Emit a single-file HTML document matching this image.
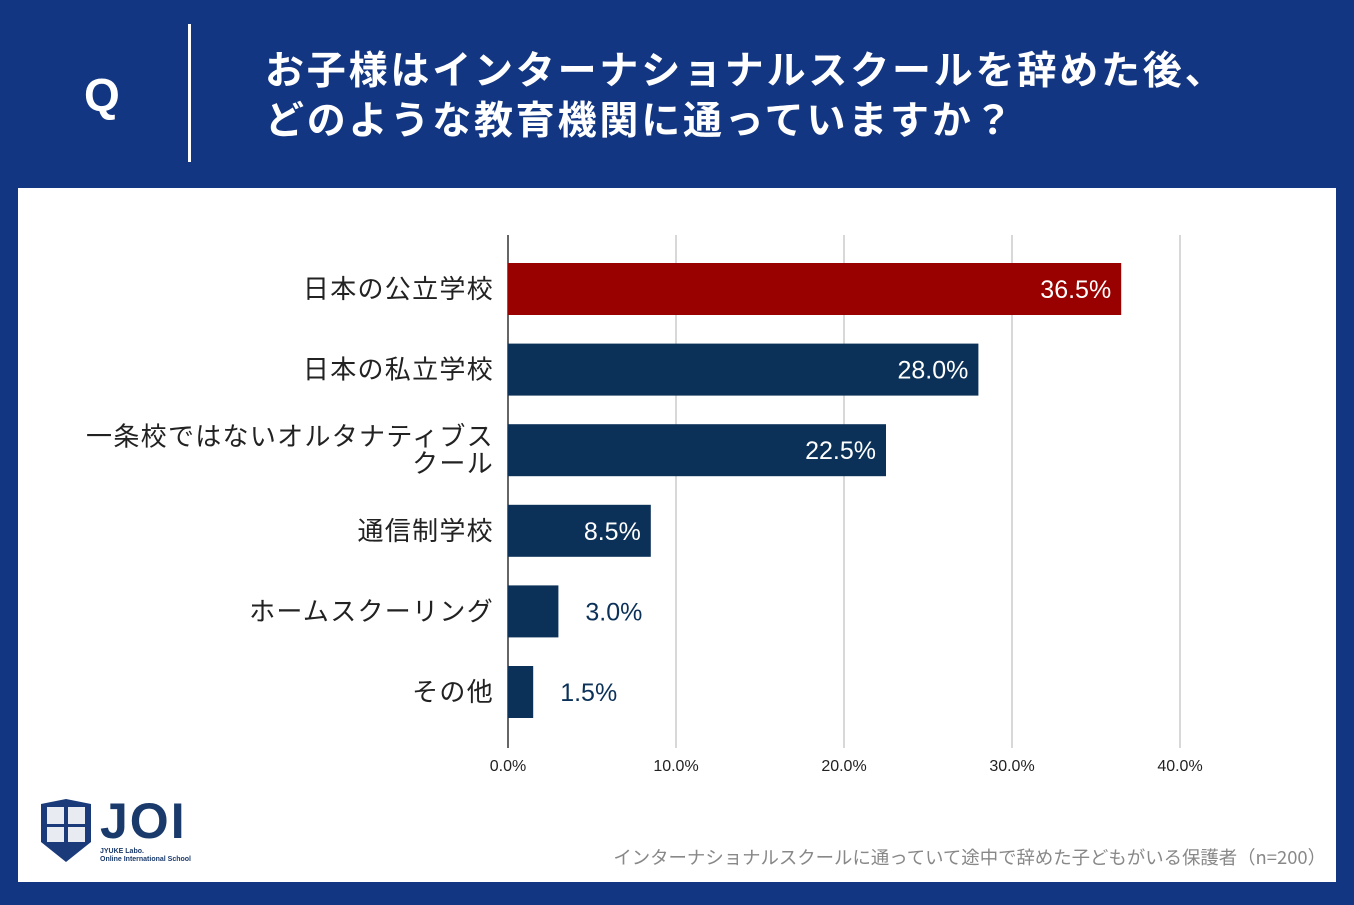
<!DOCTYPE html>
<html><head><meta charset="utf-8"><style>
body{margin:0;width:1354px;height:905px;background:#133682;font-family:"Liberation Sans","Noto Sans CJK JP",sans-serif;position:relative;overflow:hidden}
.hdr{position:absolute;color:#fff;font-weight:bold}
</style></head><body>
<div class="hdr" style="left:84px;top:68px;font-size:46px">Q</div>
<div style="position:absolute;left:188px;top:24px;width:3px;height:138px;background:#fff"></div>
<div class="hdr" style="left:265px;top:43px;font-size:39px;letter-spacing:2.8px;line-height:50px;font-family:'Noto Sans CJK JP',sans-serif;white-space:nowrap">お子様はインターナショナルスクールを辞めた後、<br>どのような教育機関に通っていますか？</div>
<div style="position:absolute;left:18px;top:188px;width:1318px;height:694px;background:#fff"></div>
<svg id="chart" width="1354" height="905" style="position:absolute;left:0;top:0"></svg>
<div style="position:absolute;right:28px;top:844px;font-size:18.4px;color:#888;font-family:'Noto Sans CJK JP',sans-serif;white-space:nowrap">インターナショナルスクールに通っていて途中で辞めた子どもがいる保護者（n=200）</div>
<div style="position:absolute;left:38px;top:798px">
<svg width="56" height="66"><path d="M3 6 L28 1 L53 6 L53 44 L28 64 L3 44Z" fill="#1a3a7a"/><rect x="9" y="9" width="17" height="17" fill="#fff" opacity=".9"/><rect x="30" y="9" width="17" height="17" fill="#fff" opacity=".9"/><rect x="9" y="29" width="17" height="15" fill="#fff" opacity=".9"/><rect x="30" y="29" width="17" height="15" fill="#fff" opacity=".9"/></svg>
<div style="position:absolute;left:62px;top:-6px;font-size:50px;font-weight:bold;color:#1a3a6b;letter-spacing:2px">JOI</div>
<div style="position:absolute;left:62px;top:50px;font-size:7px;font-weight:bold;color:#1a3a6b;line-height:8px;white-space:nowrap">JYUKE Labo.<br>Online International School</div>
</div>
<script>
const categories=["日本の公立学校","日本の私立学校","一条校ではないオルタナティブス|クール","通信制学校","ホームスクーリング","その他"];
const values=[36.5,28.0,22.5,8.5,3.0,1.5];
const ticks=[0,10,20,30,40];
const svg=document.getElementById('chart');const NS='http://www.w3.org/2000/svg';
const x0=508,pxPer=16.8,top0=235,step=80.6,barH=52;
const X=v=>x0+v*pxPer, Yc=i=>top0+54+i*step;
function el(t,a){const e=document.createElementNS(NS,t);for(const k in a)e.setAttribute(k,a[k]);svg.appendChild(e);return e;}
ticks.forEach((t,i)=>{
 const g=el('line',{x1:X(t),x2:X(t),y1:top0,y2:748,stroke:i?'#ccc':'#333','stroke-width':1.5});
 
 
 const tx=el('text',{x:X(t),y:771,'font-size':16,'text-anchor':'middle',fill:'#222','font-family':'Liberation Sans'});tx.textContent=t.toFixed(1)+'%';
 
 
});
values.forEach((v,i)=>{
 const yc=Yc(i);
 const r=el('rect',{x:x0,y:yc-barH/2,width:X(v)-x0,height:barH,fill:i===0?'#990000':'#0b3158'});
 
 
 const inside=v>5;
 const t=el('text',{x:inside?X(v)-10:X(v)+27,y:yc+9,'font-size':25,'text-anchor':inside?'end':'start',fill:inside?'#fff':'#0b3158','font-family':'Liberation Sans'});
 t.textContent=v.toFixed(1)+'%';
 
 
 const lines=categories[i].split('|');
 lines.forEach((ln,j)=>{
  const c=el('text',{x:494,y:yc+9+(j-(lines.length-1)/2)*27,'font-size':26,'letter-spacing':1.3,'text-anchor':'end',fill:'#222','font-family':'Noto Sans CJK JP, sans-serif'});
  c.textContent=ln;
  
  
 });
});
</script>
</body></html>
